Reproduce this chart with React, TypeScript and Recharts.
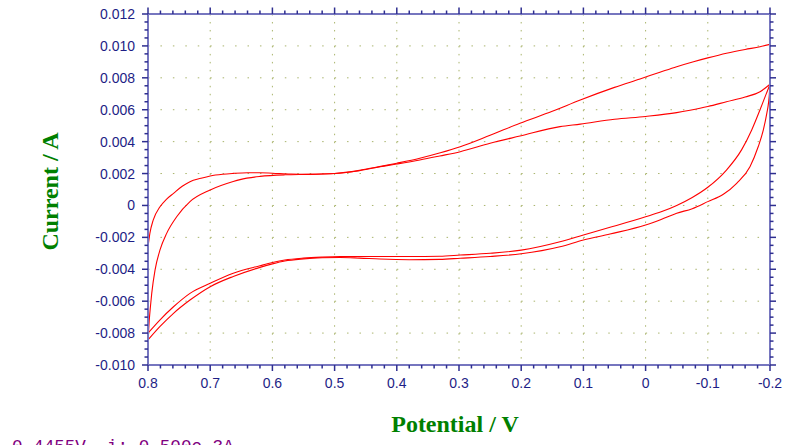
import React from 'react';
import { LineChart, Line, XAxis, YAxis, CartesianGrid, Label } from 'recharts';

// ---- Data (potential E in V, current I in A) ----
// Cycle 1, scan from 0.8 V toward -0.2 V (upper outer branch)
const cycle1Forward: [number, number][] = [
  [0.8, -0.0026], [0.797, -0.00175], [0.7915, -0.0009], [0.781, -0.0001], [0.77, 0.0004],
  [0.759, 0.00076], [0.745, 0.0012], [0.7325, 0.00149], [0.715, 0.0017], [0.7, 0.00185],
  [0.68, 0.00196], [0.663, 0.00201], [0.64, 0.00205], [0.62, 0.00205], [0.6, 0.00202],
  [0.57, 0.00197], [0.54, 0.00195], [0.5, 0.002], [0.46, 0.0022], [0.43, 0.00242],
  [0.4, 0.00265], [0.363, 0.00296], [0.33, 0.0033], [0.298, 0.00368], [0.25, 0.0044],
  [0.202, 0.00515], [0.15, 0.0059], [0.105, 0.00661], [0.05, 0.0074], [0.009, 0.00793],
  [-0.023, 0.00835], [-0.05, 0.0087], [-0.077, 0.00901], [-0.1, 0.00925], [-0.13, 0.00954],
  [-0.16, 0.00978], [-0.184, 0.00995], [-0.2, 0.0101],
];
// Cycle 1, return scan from -0.2 V back to 0.8 V
const cycle1Reverse: [number, number][] = [
  [-0.2, 0.0101], [-0.1998, 0.0085], [-0.1993, 0.0072], [-0.1975, 0.0064], [-0.195, 0.0058],
  [-0.1893, 0.00473], [-0.181, 0.00368], [-0.1678, 0.00243], [-0.1464, 0.00139], [-0.125, 0.0007],
  [-0.1, 0.00024], [-0.075, -0.0002], [-0.05, -0.00049], [-0.025, -0.00088], [0, -0.00123],
  [0.0572, -0.00179], [0.1, -0.00217], [0.1376, -0.00259], [0.2, -0.00303], [0.25, -0.0032],
  [0.298, -0.00331], [0.331, -0.00338], [0.38, -0.0034], [0.427, -0.00336], [0.46, -0.0033],
  [0.491, -0.00326], [0.52, -0.00328], [0.55, -0.00335], [0.58, -0.00348], [0.6, -0.00366],
  [0.62, -0.00388], [0.663, -0.00445], [0.7, -0.00509], [0.7325, -0.00593], [0.759, -0.00676],
  [0.781, -0.0076], [0.8, -0.00843],
];
// Cycle 2, scan from 0.8 V toward -0.2 V (upper inner branch)
const cycle2Forward: [number, number][] = [
  [0.8, -0.00843], [0.798, -0.0072], [0.796, -0.0063], [0.794, -0.00551], [0.7887, -0.00405],
  [0.7807, -0.00279], [0.77, -0.00175], [0.7539, -0.00071], [0.7325, 0.00024], [0.7, 0.00097],
  [0.663, 0.0015], [0.652, 0.00162], [0.62, 0.00182], [0.58, 0.00192], [0.54, 0.00195],
  [0.5, 0.002], [0.46, 0.00218], [0.427, 0.00243], [0.4, 0.0026], [0.363, 0.00285],
  [0.331, 0.0031], [0.298, 0.00337], [0.25, 0.0039], [0.202, 0.00435], [0.1376, 0.00494],
  [0.105, 0.0051], [0.05, 0.0054], [0, 0.00558], [-0.05, 0.00582], [-0.0714, 0.00597],
  [-0.1, 0.0062], [-0.13, 0.0065], [-0.16, 0.0068], [-0.184, 0.00713], [-0.2, 0.0076],
];
// Cycle 2, return scan from -0.2 V back to 0.8 V
const cycle2Reverse: [number, number][] = [
  [-0.2, 0.0076], [-0.195, 0.0071], [-0.19, 0.0066], [-0.184, 0.006], [-0.1706, 0.00473],
  [-0.1545, 0.0035], [-0.13, 0.00222], [-0.1, 0.00114], [-0.075, 0.0005], [-0.05, 0.0],
  [-0.025, -0.0004], [0, -0.00071], [0.0572, -0.00137], [0.1, -0.00185], [0.1376, -0.00227],
  [0.2, -0.0028], [0.25, -0.003], [0.298, -0.00311], [0.331, -0.00318], [0.38, -0.0032],
  [0.427, -0.0032], [0.491, -0.00321], [0.52, -0.00324], [0.55, -0.0033], [0.58, -0.00342],
  [0.6, -0.00358], [0.62, -0.00378], [0.663, -0.00425], [0.7, -0.00488], [0.7325, -0.00551],
  [0.759, -0.00635], [0.781, -0.00718], [0.8, -0.008],
];

// ---- Ticks ----
const xMajor = [0.8, 0.7, 0.6, 0.5, 0.4, 0.3, 0.2, 0.1, 0, -0.1, -0.2];
const xTickLabels = ['0.8', '0.7', '0.6', '0.5', '0.4', '0.3', '0.2', '0.1', '0', '-0.1', '-0.2'];
const yMajor = [0.012, 0.01, 0.008, 0.006, 0.004, 0.002, 0, -0.002, -0.004, -0.006, -0.008, -0.01];
const yTickLabels = ['0.012', '0.010', '0.008', '0.006', '0.004', '0.002', '0', '-0.002', '-0.004', '-0.006', '-0.008', '-0.010'];
const statusText = '0.4455V, i: 0.500e-3A';

const buildMinor = (major: number[], parts: number) => {
  const out: number[] = [];
  for (let i = 0; i < major.length - 1; i++) {
    for (let k = 0; k < parts; k++) {
      out.push(Number((major[i] + ((major[i + 1] - major[i]) * k) / parts).toFixed(7)));
    }
  }
  out.push(major[major.length - 1]);
  return out;
};
const xTicks = buildMinor(xMajor, 5);
const yTicks = buildMinor(yMajor, 4);
const majorIndex = (v: number, arr: number[]) => arr.findIndex((m) => Math.abs(m - v) < 1e-9);

const toPoints = (arr: [number, number][]) => arr.map(([E, I]) => ({ E, I }));

const AXIS = '#7676bf';
const TICK = '#2e2e90';
const LABEL = '#1e1e86';
const GRID = '#a9b46c';
const CURVE = '#ff0000';
const SANS = '"Liberation Sans", Arial, sans-serif';
const SERIF = '"Liberation Serif", "Times New Roman", serif';
const TITLE = '#008000';

const BottomTick = (p: any) => {
  const idx = majorIndex(p.payload.value, xMajor);
  const major = idx >= 0;
  return (
    <g>
      <line x1={p.x} x2={p.x} y1={p.y} y2={p.y + (major ? 6 : 3.5)} stroke={TICK} strokeWidth={1.5} />
      {major && (
        <text x={p.x} y={p.y + 22.5} textAnchor="middle" fill={LABEL} fontSize={14} fontFamily={SANS}>
          {xTickLabels[idx]}
        </text>
      )}
    </g>
  );
};
const TopTick = (p: any) => {
  const major = majorIndex(p.payload.value, xMajor) >= 0;
  return <line x1={p.x} x2={p.x} y1={p.y} y2={p.y - (major ? 6.5 : 3.5)} stroke={TICK} strokeWidth={1.5} />;
};
const LeftTick = (p: any) => {
  const idx = majorIndex(p.payload.value, yMajor);
  const major = idx >= 0;
  return (
    <g>
      <line x1={p.x} x2={p.x - (major ? 6 : 3.5)} y1={p.y} y2={p.y} stroke={TICK} strokeWidth={1.5} />
      {major && (
        <text x={p.x - 13} y={p.y + 5} textAnchor="end" fill={LABEL} fontSize={14} fontFamily={SANS}>
          {yTickLabels[idx]}
        </text>
      )}
    </g>
  );
};
const RightTick = (p: any) => {
  const major = majorIndex(p.payload.value, yMajor) >= 0;
  return <line x1={p.x} x2={p.x + (major ? 6 : 3.5)} y1={p.y} y2={p.y} stroke={TICK} strokeWidth={1.5} />;
};

const XTitle = (props: any) => {
  const vb = props.viewBox;
  return (
    <text x={vb.x + vb.width / 2 - 4} y={vb.y + 67} textAnchor="middle" fill={TITLE} fontSize={24} fontWeight="bold" fontFamily={SERIF}>
      Potential / V
    </text>
  );
};
const YTitle = (props: any) => {
  const vb = props.viewBox;
  const cx = vb.x + vb.width - 90;
  const cy = vb.y + vb.height / 2 + 2;
  return (
    <text x={cx} y={cy} transform={`rotate(-90 ${cx} ${cy})`} textAnchor="middle" fill={TITLE} fontSize={24} fontWeight="bold" fontFamily={SERIF}>
      Current / A
    </text>
  );
};

const series = [cycle1Forward, cycle1Reverse, cycle2Forward, cycle2Reverse];

const commonX = {
  dataKey: 'E',
  type: 'number' as const,
  domain: [-0.2, 0.8],
  reversed: true,
  allowDataOverflow: true,
  ticks: xTicks,
  interval: 0 as const,
  height: 1,
  tickSize: 0,
  tickMargin: 0,
  tickLine: false,
  axisLine: { stroke: AXIS, strokeWidth: 2 },
};
const commonY = {
  type: 'number' as const,
  domain: [-0.01, 0.012],
  allowDataOverflow: true,
  ticks: yTicks,
  interval: 0 as const,
  width: 1,
  tickSize: 0,
  tickMargin: 0,
  tickLine: false,
  axisLine: { stroke: AXIS, strokeWidth: 2 },
};

export default function App() {
  return (
    <div style={{ position: 'absolute', left: 0, top: 0, width: 800, height: 445, overflow: 'hidden', background: '#fff' }}>
      <LineChart width={800} height={445} margin={{ top: 13, right: 29, bottom: 79, left: 147 }}>
        <CartesianGrid horizontal vertical={false} horizontalValues={yMajor} stroke={GRID} strokeDasharray="1.5 10.94" />
        <CartesianGrid horizontal={false} vertical verticalValues={xMajor} stroke={GRID} strokeDasharray="1.5 6.48" />
        {series.map((s, i) => (
          <Line
            key={i}
            data={toPoints(s)}
            dataKey="I"
            type="monotone"
            stroke={CURVE}
            strokeWidth={1.1}
            dot={false}
            activeDot={false}
            isAnimationActive={false}
          />
        ))}
        <XAxis {...commonX} tick={BottomTick}>
          <Label content={XTitle} />
        </XAxis>
        <XAxis {...commonX} xAxisId="top" orientation="top" tick={TopTick} />
        <YAxis {...commonY} tick={LeftTick}>
          <Label content={YTitle} />
        </YAxis>
        <YAxis {...commonY} yAxisId="right" orientation="right" tick={RightTick} />
      </LineChart>
      <div
        style={{
          position: 'absolute',
          left: 12,
          top: 439,
          fontFamily: '"Liberation Mono", "DejaVu Sans Mono", monospace',
          fontSize: 17.6,
          lineHeight: 1,
          color: '#800080',
          whiteSpace: 'pre',
        }}
      >
        {statusText}
      </div>
    </div>
  );
}
